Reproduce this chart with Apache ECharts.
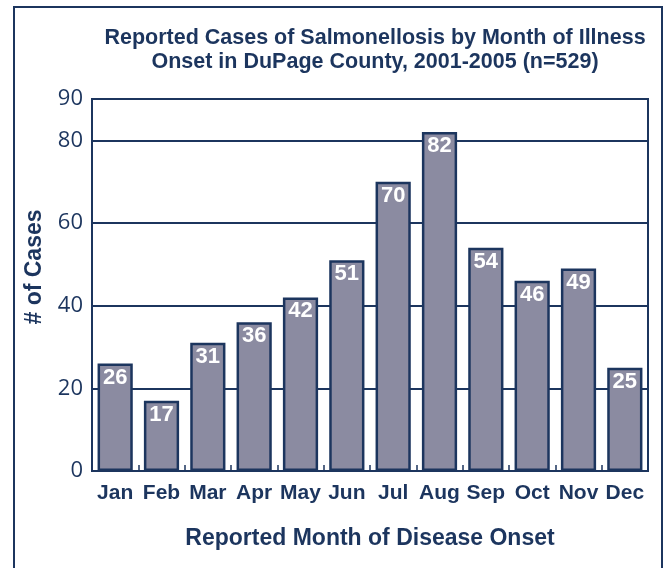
<!DOCTYPE html>
<html><head><meta charset="utf-8">
<script src="https://cdn.jsdelivr.net/npm/echarts@6/dist/echarts.min.js"></script>
<style>html,body{margin:0;padding:0;background:#fff}#c{width:667px;height:568px}</style>
</head><body><div id="c"></div>
<script>
const months = ['Jan','Feb','Mar','Apr','May','Jun','Jul','Aug','Sep','Oct','Nov','Dec'];
const cases = [26,17,31,36,42,51,70,82,54,46,49,25];
const yMin = 0, yMax = 90, yStep = 20;
const navy = '#1c355e';
const barFill = '#8b8ba1';
const chart = echarts.init(document.getElementById('c'));
chart.setOption({
  animation:false,
  backgroundColor:'#fff',
  title:{
    text:'Reported Cases of Salmonellosis by Month of Illness\nOnset in DuPage County, 2001-2005 (n=529)',
    left:370, top:21, textAlign:'center',
    textStyle:{fontFamily:'Liberation Sans',fontWeight:'bold',fontSize:21.5,color:navy,lineHeight:24}
  },
  grid:{left:92,right:19,top:99,bottom:97,show:true,borderColor:navy,borderWidth:2,backgroundColor:'transparent'},
  graphic:[
    {type:'rect',shape:{x:14,y:7,width:648,height:580},style:{fill:'none',stroke:navy,lineWidth:2}},
    {type:'text',x:35,y:267,rotation:Math.PI/2,style:{text:'# of Cases',fill:navy,font:'bold 23px "Liberation Sans"',textAlign:'center',textVerticalAlign:'middle'}}
  ],
  xAxis:{
    type:'category',data:months,
    axisLine:{lineStyle:{color:navy,width:2}},
    axisTick:{show:true,inside:true,length:6,lineStyle:{color:navy,width:1.5}},
    axisLabel:{interval:0,hideOverlap:false,color:navy,fontFamily:'Liberation Sans',fontWeight:'bold',fontSize:21,margin:12},
    name:'Reported Month of Disease Onset',nameLocation:'middle',nameGap:56,
    nameTextStyle:{color:navy,fontFamily:'Liberation Sans',fontWeight:'bold',fontSize:23}
  },
  yAxis:{
    type:'value',min:yMin,max:yMax,interval:yStep,
    axisLine:{show:true,lineStyle:{color:navy,width:2}},
    axisTick:{show:false},
    splitLine:{lineStyle:{color:navy,width:2}},
    axisLabel:{color:navy,fontFamily:'Open Sans',fontSize:22,margin:9}
  },
  series:[{
    type:'bar',data:cases,barWidth:'76%',
    itemStyle:{color:barFill,borderColor:navy,borderWidth:2.5},
    label:{show:true,position:'insideTop',distance:3,color:'#fff',fontFamily:'Liberation Sans',fontWeight:'bold',fontSize:22}
  }]
});
</script></body></html>
